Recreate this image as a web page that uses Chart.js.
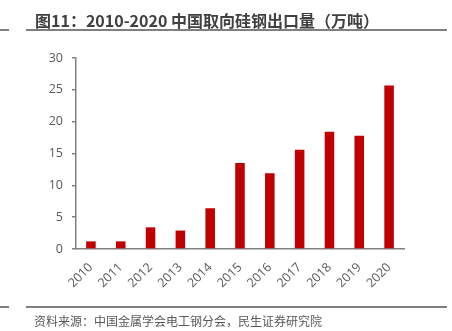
<!DOCTYPE html>
<html><head><meta charset="utf-8">
<script src="https://cdn.jsdelivr.net/npm/chart.js@4/dist/chart.umd.min.js"></script>
<style>
html,body{margin:0;padding:0;background:#fff;}
#wrap{position:relative;width:452px;height:331px;overflow:hidden;}
canvas{position:absolute;left:0;top:0;}
.t{position:absolute;left:35px;top:8px;font:bold 16px "Noto Sans CJK SC",sans-serif;color:#404040;white-space:nowrap;}
.s{position:absolute;left:34px;top:312px;font:12px "Noto Sans CJK SC",sans-serif;color:#595959;white-space:nowrap;}
.l{position:absolute;height:1.5px;background:#7f7f7f;}
</style></head>
<body><div id="wrap">
<canvas id="c" width="452" height="331"></canvas>
<div class="t">图11：2010-2020 中国取向硅钢出口量（万吨）</div>
<div class="l" style="left:0;width:9px;top:29px"></div>
<div class="l" style="left:26px;width:421px;top:29px"></div>
<div class="l" style="left:0;width:9px;top:306px"></div>
<div class="l" style="left:26px;width:421px;top:306px"></div>
<div class="s">资料来源：中国金属学会电工钢分会，民生证券研究院</div>
</div>
<script>
const categories = ["2010","2011","2012","2013","2014","2015","2016","2017","2018","2019","2020"];
const exportVolume = [1.2, 1.2, 3.4, 2.9, 6.4, 13.5, 11.9, 15.6, 18.4, 17.8, 25.7];
const yTicks = [0,5,10,15,20,25,30];

new Chart(document.getElementById('c'), {
  type: 'bar',
  data: { labels: categories, datasets: [{ data: exportVolume, backgroundColor: '#C00000', barPercentage: 0.32, categoryPercentage: 1 }] },
  options: {
    responsive: false, animation: false,
    layout: { padding: { left: 0, right: 48, top: 58, bottom: 0 } },
    plugins: { legend: { display: false }, tooltip: { enabled: false } },
    scales: {
      x: {
        grid: { display: false, drawTicks: false },
        border: { color: '#808080', width: 1.5 },
        ticks: { color: '#595959', font: { family: 'Open Sans', size: 12.5 }, maxRotation: 45, minRotation: 45, padding: 11 },
        afterFit: s => { s.height = 82; }
      },
      y: {
        min: 0, max: 30,
        afterBuildTicks: s => { s.ticks = yTicks.map(v => ({ value: v })); },
        grid: { display: true, drawOnChartArea: false, drawTicks: true, tickLength: 4, color: '#808080', lineWidth: 1.5 },
        border: { color: '#808080', width: 1.5 },
        ticks: { color: '#595959', font: { family: 'Open Sans', size: 12.5 }, padding: 9 },
        afterFit: s => { s.width = 76; }
      }
    }
  }
});
</script>
</body></html>
